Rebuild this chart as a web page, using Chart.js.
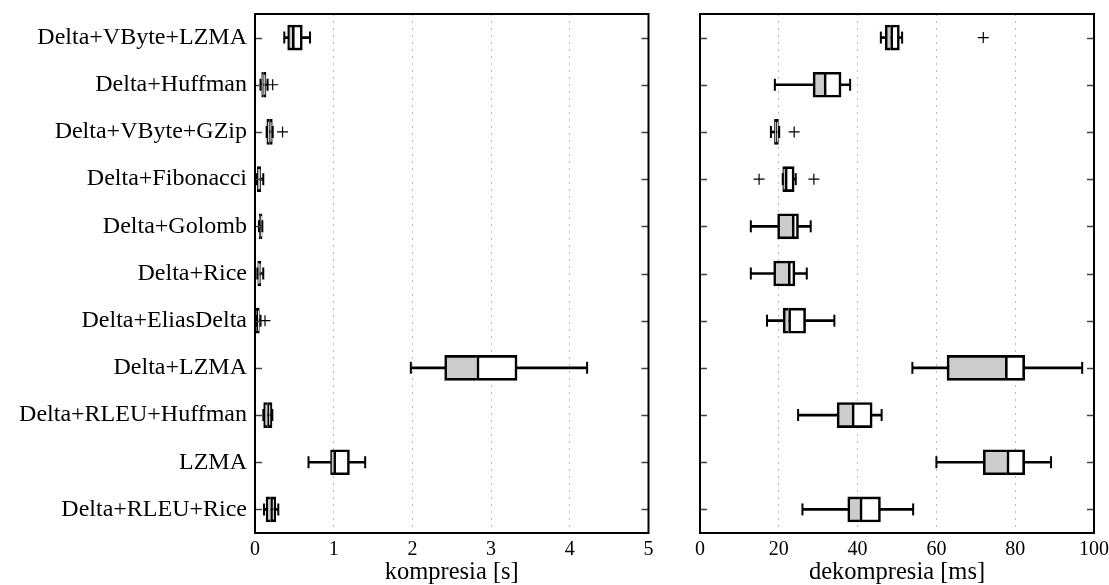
<!DOCTYPE html>
<html>
<head>
<meta charset="utf-8">
<script src="https://cdn.jsdelivr.net/npm/chart.js@4"></script>
<style>
  html, body { margin: 0; padding: 0; background: #fff; overflow: hidden; width: 1109px; height: 585px; }
  canvas { position: absolute; top: 0; }
  #c1 { left: 0; }
  #c2 { left: 660px; }
</style>
</head>
<body>
<canvas id="c1" width="665" height="585"></canvas>
<canvas id="c2" width="460" height="585"></canvas>
<script>
// ---- data ----
const categories = ['Delta+VByte+LZMA','Delta+Huffman','Delta+VByte+GZip','Delta+Fibonacci','Delta+Golomb','Delta+Rice','Delta+EliasDelta','Delta+LZMA','Delta+RLEU+Huffman','LZMA','Delta+RLEU+Rice'];

// compression times [s]
const compWhiskerLow  = [0.372, 0.07, 0.148, 0.025, 0.05, 0.03, 0.013, 1.98, 0.106, 0.68, 0.114];
const compQ1          = [0.415, 0.085, 0.15, 0.03, 0.055, 0.035, 0.015, 2.41, 0.11, 0.96, 0.14];
const compMedian      = [0.474, 0.11, 0.185, 0.05, 0.07, 0.05, 0.03, 2.82, 0.16, 1.0, 0.2];
const compQ3          = [0.601, 0.14, 0.22, 0.072, 0.09, 0.075, 0.055, 3.33, 0.216, 1.2, 0.263];
const compWhiskerHigh = [0.699, 0.16, 0.225, 0.105, 0.093, 0.105, 0.07, 4.22, 0.22, 1.40, 0.296];
const compOutliers    = [[], [0.225], [0.35], [], [], [], [0.127], [], [], [], []];
const compTicks       = [0, 1, 2, 3, 4, 5];

// decompression times [ms]
const decWhiskerLow  = [45.9, 19.0, 18.0, 21.0, 12.9, 12.9, 17.0, 53.9, 24.9, 60.0, 26.0];
const decQ1          = [47.0, 28.7, 18.9, 21.0, 19.7, 18.7, 21.1, 62.7, 34.8, 71.9, 37.5];
const decMedian      = [48.4, 31.5, 19.3, 21.6, 23.4, 22.4, 22.5, 77.5, 38.6, 77.9, 40.6];
const decQ3          = [50.6, 35.8, 19.9, 23.9, 25.0, 24.1, 26.8, 82.4, 43.7, 82.4, 45.8];
const decWhiskerHigh = [51.3, 38.1, 20.1, 24.3, 28.1, 27.1, 34.1, 97.0, 46.1, 89.1, 54.1];
const decOutliers    = [[71.9], [], [23.9], [15.0, 28.9], [], [], [], [], [], [], []];
const decTicks       = [0, 20, 40, 60, 80, 100];

// ---- styling ----
const FONT = 'Liberation Serif';
const frame = {
  id: 'frame',
  afterDatasetsDraw(chart) {
    const {ctx, chartArea: a, scales: {y}} = chart;
    ctx.save();
    ctx.strokeStyle = '#444';
    ctx.lineWidth = 1.5;
    y.ticks.forEach((t, i) => {
      const py = Math.round(y.getPixelForTick(i)) + 0.5;
      ctx.beginPath();
      ctx.moveTo(a.left, py); ctx.lineTo(a.left + 7, py);
      ctx.moveTo(a.right, py); ctx.lineTo(a.right - 7, py);
      ctx.stroke();
    });
    ctx.strokeStyle = '#000';
    ctx.lineWidth = 2;
    ctx.strokeRect(a.left, a.top, a.right - a.left, a.bottom - a.top);
    ctx.restore();
  }
};

function buildChart(canvasId, low, q1, med, q3, high, outl, ticks, xTitle, showLabels, yWidth, padRight) {
  const outlierPts = [];
  outl.forEach((arr, i) => arr.forEach(v => outlierPts.push({x: v, y: categories[i]})));
  const capPts = [];
  categories.forEach((c, i) => { capPts.push({x: low[i], y: c}); capPts.push({x: high[i], y: c}); });

  return new Chart(document.getElementById(canvasId), {
    type: 'bar',
    data: {
      labels: categories,
      datasets: [
        { type: 'scatter', data: outlierPts, pointStyle: 'cross', pointRadius: 5.5,
          borderColor: '#000', backgroundColor: '#000', pointBorderWidth: 1.2, order: 0 },
        { type: 'scatter', data: capPts, pointStyle: 'line', pointRotation: 90, pointRadius: 6,
          borderColor: '#000', backgroundColor: '#000', pointBorderWidth: 2, order: 1 },
        { data: categories.map((c, i) => [med[i], q3[i]]), backgroundColor: '#ffffff',
          borderColor: '#000', borderWidth: 2.6, borderSkipped: false, barThickness: 25, grouped: false, order: 2 },
        { data: categories.map((c, i) => [q1[i], med[i]]), backgroundColor: '#cccccc',
          borderColor: '#000', borderWidth: 2.6, borderSkipped: 'right', barThickness: 25, grouped: false, order: 3 },
        { data: categories.map((c, i) => [low[i], high[i]]), backgroundColor: '#000',
          borderWidth: 0, barThickness: 2, grouped: false, order: 4 }
      ]
    },
    options: {
      indexAxis: 'y',
      responsive: false,
      animation: false,
      events: [],
      devicePixelRatio: 1,
      layout: { padding: { top: 14, right: padRight, bottom: 0, left: 0 } },
      plugins: { legend: { display: false }, tooltip: { enabled: false } },
      scales: {
        x: {
          type: 'linear',
          min: ticks[0], max: ticks[ticks.length - 1],
          afterBuildTicks: s => { s.ticks = ticks.map(v => ({value: v})); },
          afterFit: s => { s.height = 585 - 533; s.paddingLeft = 0; s.paddingRight = 0; },
          grid: { color: '#bbbbbb', lineWidth: 1, drawTicks: false },
          border: { display: false, dash: [2, 5] },
          ticks: { color: '#000', font: { family: FONT, size: 20 }, padding: 5, maxRotation: 0 },
          title: { display: true, text: xTitle, color: '#000', font: { family: FONT, size: 24.5, lineHeight: 1 },
                   padding: { top: 0, bottom: 0 } }
        },
        y: {
          type: 'category',
          offset: true,
          afterFit: s => { s.width = yWidth; s.paddingTop = 0; s.paddingBottom = 0; },
          grid: { display: false, drawTicks: false },
          border: { display: false },
          ticks: { display: showLabels, color: '#000', font: { family: FONT, size: 24 }, padding: 8 }
        }
      }
    },
    plugins: [frame]
  });
}

buildChart('c1', compWhiskerLow, compQ1, compMedian, compQ3, compWhiskerHigh, compOutliers, compTicks,
           'kompresia [s]', true, 255, 16.5);
buildChart('c2', decWhiskerLow, decQ1, decMedian, decQ3, decWhiskerHigh, decOutliers, decTicks,
           'dekompresia [ms]', false, 40, 26);
</script>
</body>
</html>
